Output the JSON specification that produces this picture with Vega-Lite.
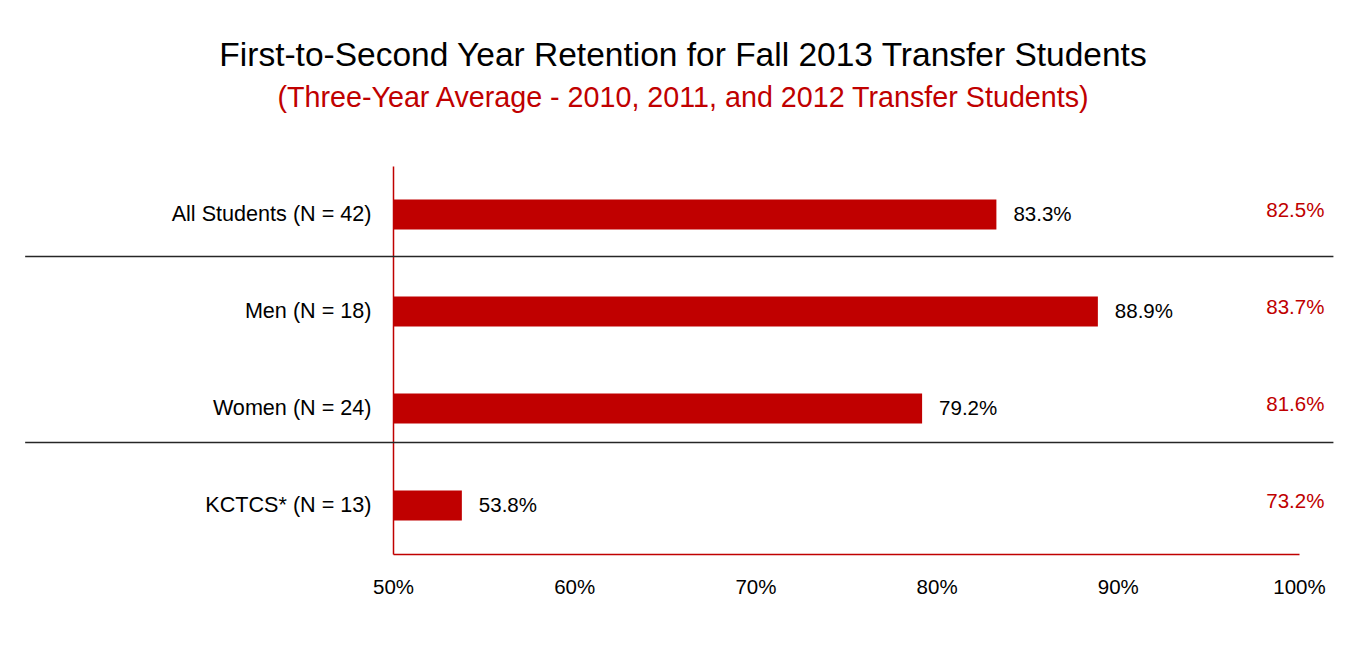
{
  "$schema": "https://vega.github.io/schema/vega-lite/v6.json",
  "width": 906,
  "height": 388,
  "autosize": {"type": "none"},
  "padding": {"left": 393, "top": 166, "right": 49, "bottom": 94},
  "background": "white",
  "config": {"view": {"stroke": null}, "font": "Liberation Sans"},
  "title": {
    "text": "First-to-Second Year Retention for Fall 2013 Transfer Students",
    "subtitle": "(Three-Year Average - 2010, 2011, and 2012 Transfer Students)",
    "anchor": "middle",
    "frame": "group",
    "dx": -163,
    "offset": 52,
    "font": "Liberation Sans",
    "fontSize": 33.5,
    "fontWeight": "normal",
    "color": "#000000",
    "subtitleFont": "Liberation Sans",
    "subtitleFontSize": 28.7,
    "subtitleColor": "#C00000",
    "subtitlePadding": 11
  },
  "data": {
    "values": [
      {"group": "All Students (N = 42)", "rate": 0.833, "avg": 0.825},
      {"group": "Men (N = 18)", "rate": 0.889, "avg": 0.837},
      {"group": "Women (N = 24)", "rate": 0.792, "avg": 0.816},
      {"group": "KCTCS* (N = 13)", "rate": 0.538, "avg": 0.732}
    ]
  },
  "layer": [
    {
      "mark": {"type": "bar", "size": 30, "color": "#C00000"},
      "encoding": {
        "x": {
          "field": "rate",
          "type": "quantitative",
          "scale": {"domain": [0.5, 1], "nice": false, "zero": false},
          "axis": {
            "values": [0.5, 0.6, 0.7, 0.8, 0.9, 1.0],
            "format": ".0%",
            "title": null,
            "grid": false,
            "ticks": false,
            "labelFlush": false,
            "labelOverlap": false,
            "domainColor": "#C00000",
            "domainWidth": 1.5,
            "labelPadding": 23,
            "labelFontSize": 20.5,
            "labelColor": "#000000",
            "labelFont": "Liberation Sans"
          }
        },
        "x2": {"datum": 0.5},
        "y": {
          "field": "group",
          "type": "nominal",
          "sort": null,
          "scale": {"paddingInner": 0, "paddingOuter": 0},
          "axis": {
            "title": null,
            "ticks": false,
            "grid": false,
            "domainColor": "#C00000",
            "domainWidth": 1.5,
            "labelPadding": 22,
            "labelFontSize": 21.6,
            "labelColor": "#000000",
            "labelFont": "Liberation Sans",
            "labelLimit": 400
          }
        }
      }
    },
    {
      "mark": {"type": "text", "align": "left", "baseline": "middle", "dx": 17, "fontSize": 20.5, "font": "Liberation Sans", "color": "#000000"},
      "encoding": {
        "x": {"field": "rate", "type": "quantitative"},
        "y": {"field": "group", "type": "nominal", "sort": null},
        "text": {"field": "rate", "type": "quantitative", "format": ".1%"}
      }
    },
    {
      "mark": {"type": "text", "align": "center", "baseline": "middle", "dy": -4, "fontSize": 20.5, "font": "Liberation Sans", "color": "#C00000"},
      "encoding": {
        "x": {"datum": 0.998, "type": "quantitative"},
        "y": {"field": "group", "type": "nominal", "sort": null},
        "text": {"field": "avg", "type": "quantitative", "format": ".1%"}
      }
    },
    {
      "data": {"values": [{}]},
      "mark": {"type": "rule", "color": "#262626", "strokeWidth": 1.5},
      "encoding": {
        "x": {"datum": 0.297, "type": "quantitative"},
        "x2": {"datum": 1.019},
        "y": {"datum": "All Students (N = 42)", "type": "nominal", "bandPosition": 0.933}
      }
    },
    {
      "data": {"values": [{}]},
      "mark": {"type": "rule", "color": "#262626", "strokeWidth": 1.5},
      "encoding": {
        "x": {"datum": 0.297, "type": "quantitative"},
        "x2": {"datum": 1.019},
        "y": {"datum": "Women (N = 24)", "type": "nominal", "bandPosition": 0.85}
      }
    }
  ]
}
